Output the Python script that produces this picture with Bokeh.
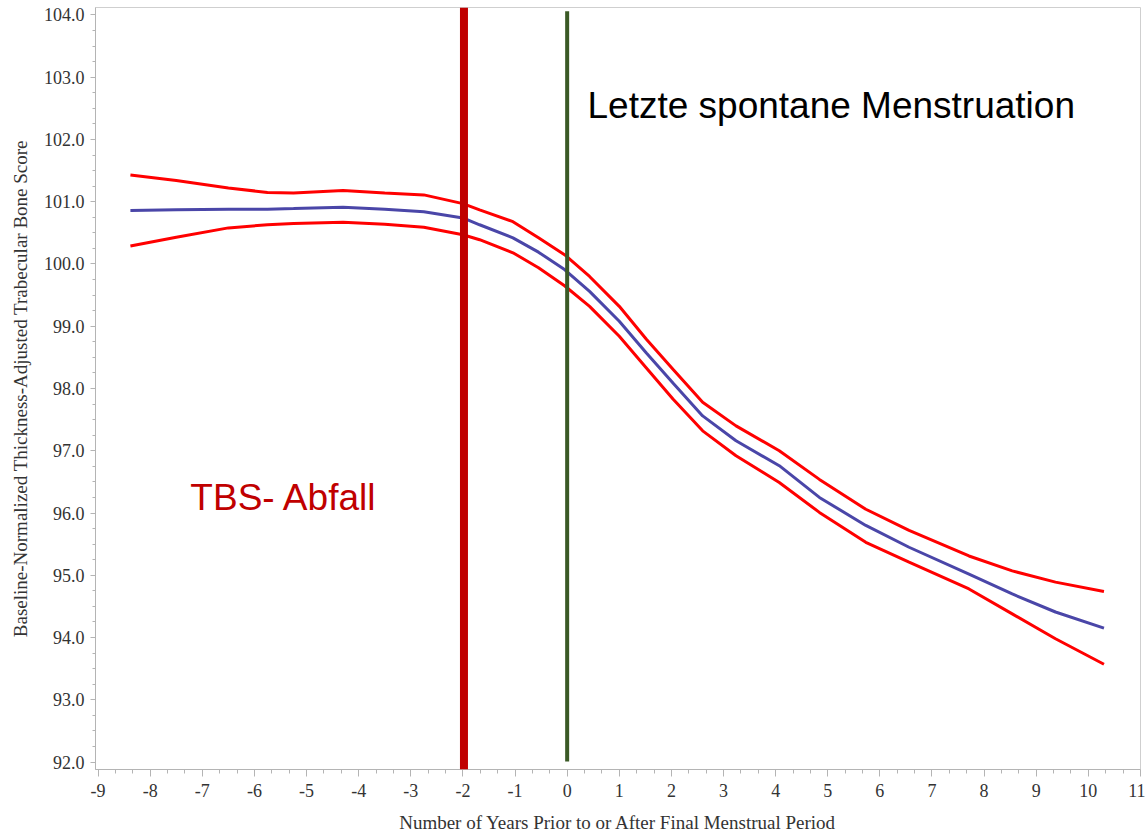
from bokeh.plotting import figure
from bokeh.models import (Range1d, FixedTicker, PrintfTickFormatter, Label, Span,
                          ColumnDataSource)
from bokeh.embed import file_html
from bokeh.resources import INLINE

# ---- data ----
years = [-8.38, -7.5, -6.5, -5.75, -5.25, -4.3, -3.5, -2.75, -2.0, -1.68, -1.04,
         -0.55, -0.05, 0.43, 1.0, 1.52, 2.03, 2.6, 3.24, 4.07, 4.84, 5.73, 6.56,
         7.71, 8.54, 9.37, 10.30]
tbs_mean = [100.86, 100.87, 100.88, 100.88, 100.89, 100.91, 100.88, 100.84, 100.74,
            100.63, 100.42, 100.19, 99.91, 99.56, 99.08, 98.57, 98.09, 97.56, 97.16,
            96.76, 96.25, 95.80, 95.45, 95.02, 94.70, 94.41, 94.15]
tbs_upper = [101.43, 101.34, 101.22, 101.15, 101.14, 101.18, 101.14, 101.11, 100.97,
             100.87, 100.68, 100.42, 100.15, 99.80, 99.32, 98.79, 98.31, 97.78, 97.40,
             97.00, 96.54, 96.06, 95.72, 95.31, 95.07, 94.89, 94.74]
tbs_lower = [100.29, 100.43, 100.58, 100.63, 100.65, 100.67, 100.64, 100.59, 100.47,
             100.39, 100.18, 99.94, 99.65, 99.32, 98.84, 98.33, 97.83, 97.32, 96.92,
             96.49, 96.01, 95.53, 95.21, 94.78, 94.38, 93.98, 93.57]

x_ticks = list(range(-9, 12))
y_ticks = [92.0, 93.0, 94.0, 95.0, 96.0, 97.0, 98.0, 99.0, 100.0, 101.0, 102.0, 103.0, 104.0]

fmp_year = 0.0            # final menstrual period
tbs_drop_year = -1.98     # start of TBS decline

x_title = "Number of Years Prior to or After Final Menstrual Period"
y_title = "Baseline-Normalized Thickness-Adjusted Trabecular Bone Score"
fmp_text = "Letzte spontane Menstruation"
drop_text = "TBS- Abfall"

# ---- figure ----
p = figure(width=1145, height=835, output_backend="svg", toolbar_location=None,
           x_range=Range1d(-9.05, 11.001), y_range=Range1d(91.88, 104.12),
           min_border_left=95, min_border_right=5, min_border_top=7,
           min_border_bottom=64)
p.background_fill_color = "white"
p.border_fill_color = "white"
p.outline_line_color = "#cfcfcf"
p.outline_line_width = 1
p.xgrid.visible = False
p.ygrid.visible = False

src = ColumnDataSource(dict(x=years, m=tbs_mean, u=tbs_upper, l=tbs_lower))
p.line("x", "u", source=src, line_color="#ff0000", line_width=3)
p.line("x", "l", source=src, line_color="#ff0000", line_width=3)
p.line("x", "m", source=src, line_color="#4a46a8", line_width=3)

# vertical markers
p.add_layout(Span(location=tbs_drop_year, dimension="height",
                  line_color="#c00000", line_width=8))
p.segment(x0=[fmp_year], y0=[92.01], x1=[fmp_year], y1=[104.06],
          line_color="#3b5a26", line_width=4)

# annotations
p.add_layout(Label(x=0.39, y=102.55, text=fmp_text, text_font="Liberation Sans",
                   text_font_size="37px", text_color="black",
                   text_baseline="alphabetic"))
p.add_layout(Label(x=-7.23, y=96.25, text=drop_text, text_font="Liberation Sans",
                   text_font_size="37px", text_color="#c00000",
                   text_baseline="alphabetic"))

# axes
xminor = [t + k / 3 for t in x_ticks[:-1] for k in (1, 2)]
yminor = [t + k / 4 for t in y_ticks[:-1] for k in (1, 2, 3)]
p.xaxis.ticker = FixedTicker(ticks=x_ticks, minor_ticks=xminor)
p.yaxis.ticker = FixedTicker(ticks=y_ticks, minor_ticks=yminor)
p.xaxis.formatter = PrintfTickFormatter(format="%d")
p.yaxis.formatter = PrintfTickFormatter(format="%.1f")

for ax in (p.xaxis[0], p.yaxis[0]):
    ax.axis_line_color = "#b4b4b4"
    ax.major_tick_line_color = "#b4b4b4"
    ax.minor_tick_line_color = "#b4b4b4"
    ax.major_tick_in = 0
    ax.minor_tick_in = 0
    ax.major_label_text_font = "Liberation Serif"
    ax.major_label_text_font_size = "18px"
    ax.major_label_text_color = "#333333"
    ax.axis_label_text_font = "Liberation Serif"
    ax.axis_label_text_font_size = "19px"
    ax.axis_label_text_font_style = "normal"
    ax.axis_label_text_color = "#333333"

p.xaxis.major_tick_out = 7
p.xaxis.minor_tick_out = 4
p.yaxis.major_tick_out = 5
p.yaxis.minor_tick_out = 3
p.xaxis.major_label_standoff = 7
p.yaxis.major_label_standoff = 6
p.xaxis.axis_label = x_title
p.yaxis.axis_label = y_title
p.xaxis.axis_label_standoff = 12
p.yaxis.axis_label_standoff = 10

open("out.html", "w").write(file_html(p, INLINE))
